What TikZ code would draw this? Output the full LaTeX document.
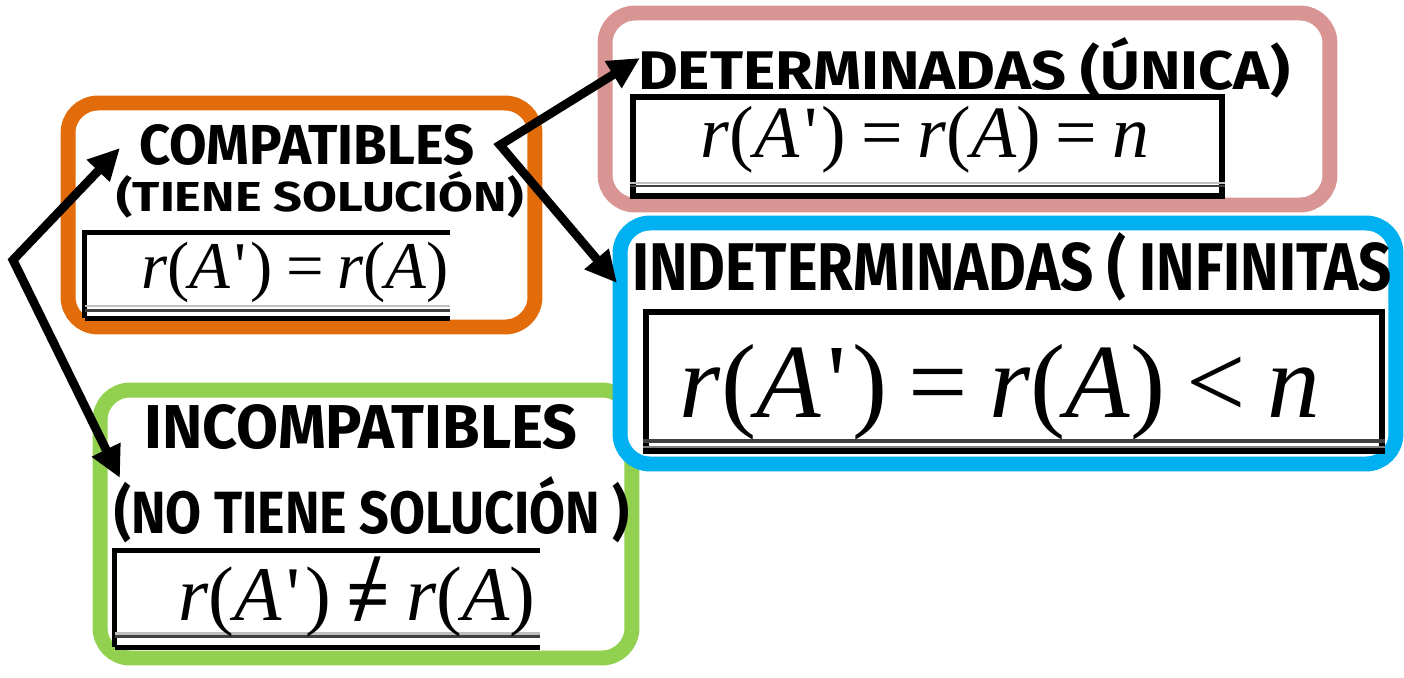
\documentclass[tikz,border=0pt]{standalone}
\usepackage{fontspec}
\setmainfont{Liberation Serif}
\newfontfamily\handfont{Fira Sans}
\newfontfamily\fmlfont{Liberation Serif}[Ligatures=TeXOff]
\usepackage{tikz}
\usetikzlibrary{positioning, arrows.meta, calc}
\definecolor{compcol}{HTML}{E36C0A}
\definecolor{detcol}{HTML}{D99594}
\definecolor{indetcol}{HTML}{00B0F0}
\definecolor{incompcol}{HTML}{92D050}
\newcommand\hand[3]{\resizebox{#1}{#2}{\handfont\bfseries #3}}
\newcommand\rAp{\textit{r}(\textit{A}\kern.06em'\kern.06em)}
\newcommand\rA{\textit{r}(\textit{A})}
\newcommand\rel[1]{\hspace{.2em}#1\hspace{.2em}}
\newcommand\heavyne{\ooalign{\textbf{=}\cr\hidewidth\scalebox{1.15}[1.25]{\textbf{/}}\hidewidth\cr}}

\begin{document}
\begin{tikzpicture}[x=0.02cm, y=-0.02cm,
    groupbox/.style={draw, line width=8.5pt, rounded corners=0.6cm, fill=white, inner sep=0pt},
    tabbox/.style={inner sep=0pt},
    fml/.style={inner sep=0pt, font=\fmlfont},
    hw/.style={inner sep=0pt},
    darkrule/.style={black!75, line width=1.6pt},
    lightrule/.style={black!25, line width=1.4pt},
    arrs/.style={line width=5pt, {Triangle[length=18pt, width=17pt]}-{Triangle[length=18pt, width=17pt]}}]
  \useasboundingbox (0,0) rectangle (1404,677);

  \node[groupbox, draw=compcol, minimum width=9.34cm, minimum height=4.48cm] (comp) at (301.5,215) {};
  \node[groupbox, draw=incompcol, minimum width=10.64cm, minimum height=5.36cm] (incomp) at (366,524) {};
  \node[groupbox, draw=detcol, minimum width=14.5cm, minimum height=3.84cm] (det) at (967.5,109) {};
  \node[groupbox, draw=indetcol, minimum width=15.52cm, minimum height=4.82cm] (indet) at (1008,343.5) {};

  % formula tables
  \node[tabbox, minimum width=7.3cm, minimum height=1.7cm] (tcomp) at (267.5,275.5) {};
  \draw[line width=3pt] (tcomp.south west) |- (tcomp.north east);
  \draw[line width=3pt] (tcomp.south west) -- (tcomp.south east);
  \draw[lightrule] ([yshift=7pt]tcomp.south west) -- ([yshift=7pt]tcomp.south east);
  \draw[darkrule] ([yshift=4.5pt]tcomp.south west) -- ([yshift=4.5pt]tcomp.south east);

  \node[tabbox, draw, line width=3.4pt, minimum width=11.78cm, minimum height=1.98cm] (tdet) at (927.5,146.5) {};
  \draw[lightrule] ([yshift=9pt]tdet.south west) -- ([yshift=9pt]tdet.south east);
  \draw[darkrule] ([yshift=7.4pt]tdet.south west) -- ([yshift=7.4pt]tdet.south east);

  \node[tabbox, draw, line width=3.4pt, minimum width=14.72cm, minimum height=2.78cm] (tindet) at (1014,381.5) {};
  \draw[darkrule, line width=2.4pt] ([yshift=7.4pt]tindet.south west) -- ([yshift=7.4pt]tindet.south east);
  \draw[lightrule, black!50] ([yshift=4pt]tindet.south west) -- ([yshift=4pt]tindet.south east);

  \node[tabbox, minimum width=8.5cm, minimum height=1.92cm] (tincomp) at (327.5,599) {};
  \draw[line width=3pt] (tincomp.south west) |- (tincomp.north east);
  \draw[line width=3pt] (tincomp.south west) -- (tincomp.south east);
  \draw[lightrule] ([yshift=8pt]tincomp.south west) -- ([yshift=8pt]tincomp.south east);
  \draw[darkrule] ([yshift=6pt]tincomp.south west) -- ([yshift=6pt]tincomp.south east);

  \node[fml, font=\fmlfont\fontsize{38}{40}\selectfont] (ecomp) at (295,272) {\rAp\rel{=}\rA};
  \node[fml, font=\fmlfont\fontsize{42}{44}\selectfont] (edet) at (925,140) {\rAp\rel{=}\rA\rel{=}\textit{n}};
  \node[fml, font=\fmlfont\fontsize{60}{62}\selectfont] (eindet) at (1000,392) {\rAp\rel{=}\rA\rel{<}\textit{n}};
  \node[fml, font=\fmlfont\fontsize{44}{46}\selectfont] (eincomp) at (357,602) {\rAp\rel{\heavyne}\rA};

  % handwritten labels
  \node[hw] (hcomp) at (307,145) {\hand{6.7cm}{0.8cm}{COMPATIBLES}};
  \node[hw] (hcompsol) at (320,195) {\hand{8.14cm}{0.8cm}{(TIENE SOLUCIÓN)}};
  \node[hw] (hdet) at (964,68) {\hand{13.04cm}{1.04cm}{DETERMINADAS (ÚNICA)}};
  \node[hw] (hindet) at (1012,267) {\hand{15.2cm}{1.16cm}{INDETERMINADAS ( INFINITAS}};
  \node[hw] (hincomp) at (361,427) {\hand{8.66cm}{0.88cm}{INCOMPATIBLES}};
  \node[hw] (hincompsol) at (372,510) {\hand{10.3cm}{1.14cm}{(NO TIENE SOLUCIÓN )}};

  \coordinate (root) at (13,260);
  \coordinate (fork) at (500,145);
  \coordinate (tipcomp) at (120,148);
  \coordinate (tipincomp) at (120,478);
  \coordinate (tipdet) at (640,58);
  \coordinate (tipindet) at (617,283);
  \draw[arrs] (tipcomp) -- (root) -- (tipincomp);
  \draw[arrs] (tipdet) -- (fork) -- (tipindet);
\end{tikzpicture}
\end{document}
